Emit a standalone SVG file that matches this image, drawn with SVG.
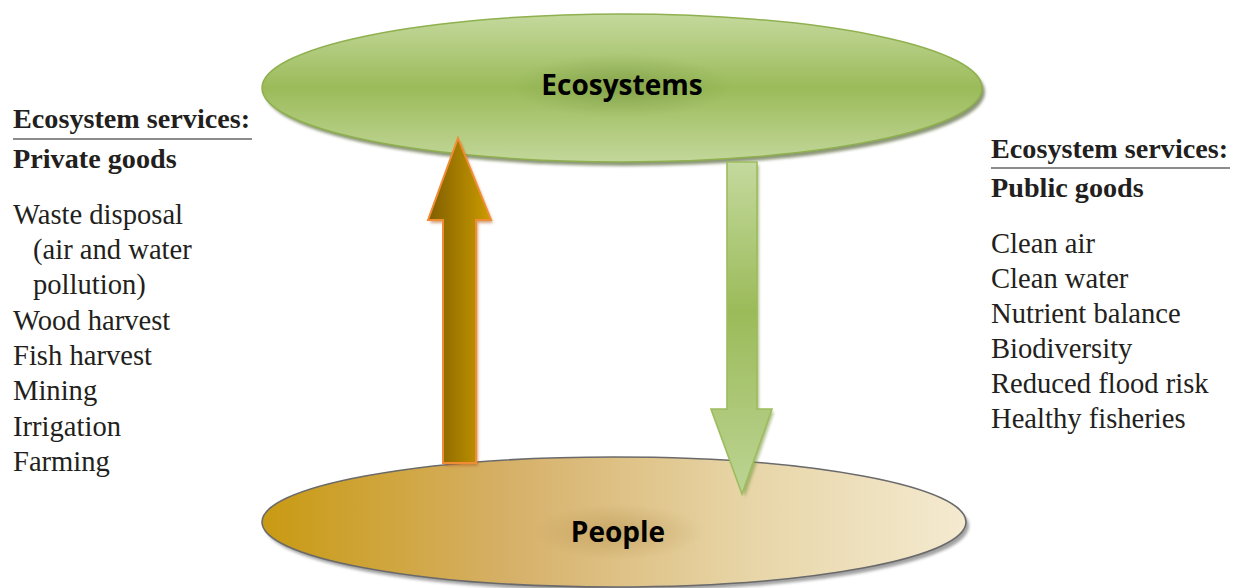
<svg xmlns="http://www.w3.org/2000/svg" width="1236" height="588" viewBox="0 0 1236 588">
<defs>
<style>
.hd{font-family:"Liberation Serif",serif;font-weight:bold;font-size:28.2px;fill:#231f20}
.it{font-family:"Liberation Serif",serif;font-size:28.6px;fill:#231f20}
.lbl{font-family:"Open Sans","Liberation Sans",sans-serif;font-weight:bold;font-size:28px;fill:#000;text-anchor:middle}
.rule{stroke:#666;stroke-width:1.6}
</style>
<linearGradient id="gEco" x1="0" y1="0" x2="0" y2="1">
<stop offset="0" stop-color="#c4d99d"/>
<stop offset="0.5" stop-color="#9bbb59"/>
<stop offset="1" stop-color="#c2d79a"/>
</linearGradient>
<linearGradient id="gPeo" x1="0" y1="0" x2="1" y2="0">
<stop offset="0" stop-color="#c99a12"/>
<stop offset="0.35" stop-color="#d6b068"/>
<stop offset="0.7" stop-color="#e8d6a9"/>
<stop offset="1" stop-color="#f4ead0"/>
</linearGradient>
<linearGradient id="gUp" x1="0" y1="0" x2="1" y2="0">
<stop offset="0" stop-color="#7f5e00"/>
<stop offset="1" stop-color="#cc9c00"/>
</linearGradient>
<linearGradient id="gDown" x1="0" y1="0" x2="0" y2="1">
<stop offset="0" stop-color="#c4d99e"/>
<stop offset="0.45" stop-color="#9bbb59"/>
<stop offset="1" stop-color="#bcd494"/>
</linearGradient>
<radialGradient id="gGlow" cx="0.5" cy="0.5" r="0.5">
<stop offset="0" stop-color="#6f8e3c" stop-opacity="0.5"/>
<stop offset="1" stop-color="#6f8e3c" stop-opacity="0"/>
</radialGradient>
<radialGradient id="gGlow2" cx="0.5" cy="0.5" r="0.5">
<stop offset="0" stop-color="#a88440" stop-opacity="0.4"/>
<stop offset="1" stop-color="#a88440" stop-opacity="0"/>
</radialGradient>
<filter id="sh" x="-10%" y="-20%" width="120%" height="140%">
<feGaussianBlur stdDeviation="1.5"/>
</filter>
</defs>

<g id="ecosystems">
<ellipse cx="625" cy="92" rx="360" ry="74" fill="#6f7d55" opacity="0.8" filter="url(#sh)"/>
<ellipse cx="622" cy="88" rx="360" ry="74" fill="url(#gEco)" stroke="#8fb04f" stroke-width="1.5"/>
<ellipse cx="622" cy="86" rx="110" ry="32" fill="url(#gGlow)"/>
<text class="lbl" x="622" y="95">Ecosystems</text>
</g>

<g id="people">
<ellipse cx="617" cy="526" rx="352" ry="65" fill="#8a8a8a" opacity="0.8" filter="url(#sh)"/>
<ellipse cx="614" cy="522" rx="352" ry="65" fill="url(#gPeo)" stroke="#6a6a6a" stroke-width="1.6"/>
<ellipse cx="618" cy="532" rx="85" ry="28" fill="url(#gGlow2)"/>
<text class="lbl" x="618" y="542">People</text>
</g>

<g id="connectors">
<polygon points="460,141 493,223 478,223 478,466 445,466 445,223 430,223" fill="#b5662a" opacity="0.6" filter="url(#sh)"/>
<polygon id="up-arrow" points="458,138 491,220 476,220 476,463 443,463 443,220 428,220" fill="url(#gUp)" stroke="#f08c34" stroke-width="2" stroke-linejoin="miter"/>
<polygon points="745,497 774,412 759,412 759,165 729,165 729,412 713,412" fill="#7d9a45" opacity="0.6" filter="url(#sh)"/>
<polygon id="down-arrow" points="742,494 772,409 757,409 757,162 727,162 727,409 711,409" fill="url(#gDown)" stroke="#9cbc5e" stroke-width="1.6"/>
</g>

<g id="private-goods">
<text class="hd" x="13" y="128">Ecosystem services:</text>
<line class="rule" x1="13" y1="139" x2="252" y2="139"/>
<text class="hd" x="13" y="168">Private goods</text>
<text class="it" x="13" y="224">Waste disposal</text>
<text class="it" x="33" y="259">(air and water</text>
<text class="it" x="33" y="294">pollution)</text>
<text class="it" x="13" y="330">Wood harvest</text>
<text class="it" x="13" y="365">Fish harvest</text>
<text class="it" x="13" y="400">Mining</text>
<text class="it" x="13" y="436">Irrigation</text>
<text class="it" x="13" y="471">Farming</text>
</g>

<g id="public-goods">
<text class="hd" x="991" y="158">Ecosystem services:</text>
<line class="rule" x1="991" y1="168" x2="1230" y2="168"/>
<text class="hd" x="991" y="197">Public goods</text>
<text class="it" x="991" y="253">Clean air</text>
<text class="it" x="991" y="288">Clean water</text>
<text class="it" x="991" y="323">Nutrient balance</text>
<text class="it" x="991" y="358">Biodiversity</text>
<text class="it" x="991" y="393">Reduced flood risk</text>
<text class="it" x="991" y="428">Healthy fisheries</text>
</g>
</svg>
